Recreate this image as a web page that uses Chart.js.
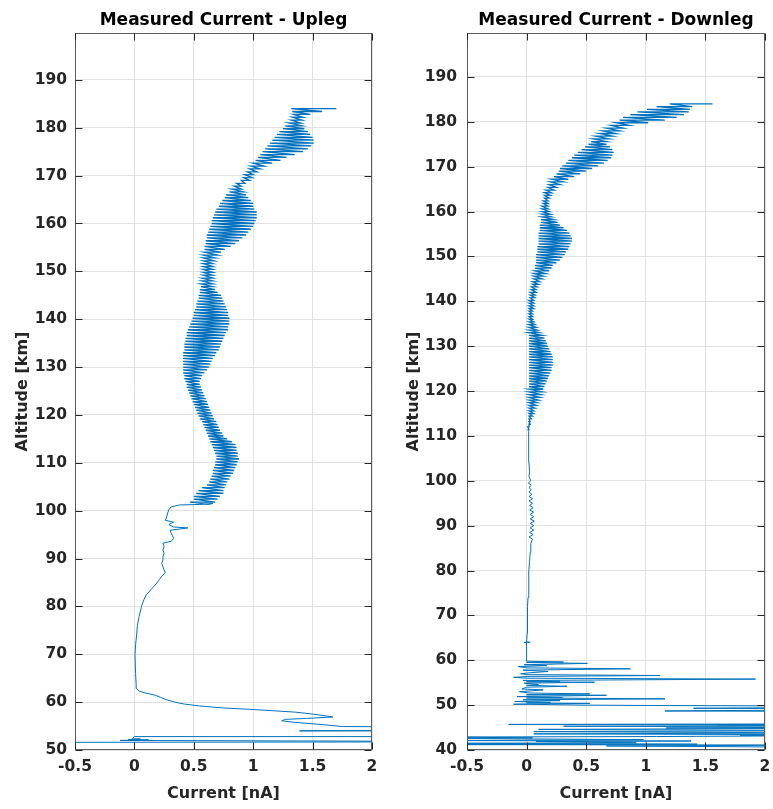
<!DOCTYPE html>
<html>
<head>
<meta charset="utf-8">
<title>Measured Current</title>
<script src="https://cdn.jsdelivr.net/npm/chart.js@4.4.1/dist/chart.umd.min.js"></script>
<style>
  html, body { margin: 0; padding: 0; background: #fff; }
  #wrap { position: relative; width: 773px; height: 809px; }
  canvas { position: absolute; top: 0; }
  #upChart { left: 0; }
  #downChart { left: 390px; }
</style>
</head>
<body>
<div id="wrap">
  <canvas id="upChart" width="390" height="809"></canvas>
  <canvas id="downChart" width="383" height="809"></canvas>
</div>
<script>
// ---- axis ticks ----
const currentTicks = [-0.5, 0, 0.5, 1, 1.5, 2];
const upAltTicks = [50, 60, 70, 80, 90, 100, 110, 120, 130, 140, 150, 160, 170, 180, 190];
const downAltTicks = [40, 50, 60, 70, 80, 90, 100, 110, 120, 130, 140, 150, 160, 170, 180, 190];

// ---- upleg: single trace below the spin-modulated band (altitude km / current nA) ----
const upTraceAlt = [
  51.6, 51.7, 51.8, 52.0, 52.1, 52.2, 52.3, 52.3, 52.8, 52.8, 54.0, 54.0, 54.1, 54.8, 54.9,
  55.3, 55.8, 56.1, 56.4, 56.6, 56.9, 57.1, 57.5, 57.9, 58.2, 58.5, 58.8, 59.2, 59.6, 60.0,
  60.5, 61.0, 61.4, 61.7, 62.0, 62.3, 62.8, 63.6, 66.0, 70.0, 72.0, 74.4, 76.0, 77.9, 80.0,
  81.4, 82.4, 83.8, 84.9, 85.6, 86.3, 87.0, 87.6, 88.3, 89.0, 89.7, 90.4, 91.1, 91.8, 92.5,
  93.2, 93.6, 94.2, 94.8, 95.3, 95.9, 96.4, 96.6, 97.1, 97.6, 98.0, 98.5, 99.5, 100.2, 100.8,
  101.2, 101.3, 101.5, 101.3
];
const upTraceCur = [
  -0.8, 2.6, 2.6, -0.12, 0.12, -0.05, 0.05, -0.02, 0.0, 2.6, 2.6, 1.39, 2.6, 2.6, 1.75,
  1.59, 1.34, 1.24, 1.27, 1.45, 1.67, 1.62, 1.50, 1.36, 1.17, 0.97, 0.74, 0.55, 0.42, 0.34,
  0.27, 0.22, 0.18, 0.13, 0.08, 0.04, 0.02, 0.015, 0.01, 0.005, 0.01, 0.02, 0.025, 0.04, 0.06,
  0.08, 0.10, 0.15, 0.19, 0.21, 0.23, 0.26, 0.25, 0.24, 0.23, 0.24, 0.24, 0.25, 0.24, 0.25,
  0.24, 0.31, 0.33, 0.32, 0.31, 0.30, 0.45, 0.33, 0.29, 0.33, 0.26, 0.27, 0.28, 0.29, 0.31,
  0.38, 0.55, 0.66, 0.62
];

// ---- upleg band: one stroke every BAND_STEP km from 101.8 km, left/right end in nA ----
const upBandStart = 101.8;
const upBandLo = [
  0.47, 0.50, 0.50, 0.52, 0.54, 0.57, 0.61, 0.63, 0.64, 0.65,
  0.66, 0.66, 0.67, 0.68, 0.68, 0.69, 0.69, 0.68, 0.67, 0.66,
  0.65, 0.64, 0.63, 0.62, 0.61, 0.60, 0.59, 0.58, 0.57, 0.55,
  0.54, 0.53, 0.52, 0.51, 0.50, 0.49, 0.48, 0.47, 0.46, 0.45,
  0.44, 0.44, 0.43, 0.42, 0.42, 0.41, 0.41, 0.41, 0.41, 0.41,
  0.41, 0.41, 0.41, 0.42, 0.42, 0.42, 0.43, 0.43, 0.44, 0.44,
  0.45, 0.46, 0.47, 0.48, 0.49, 0.50, 0.50, 0.51, 0.52, 0.52,
  0.53, 0.54, 0.54, 0.55, 0.55, 0.56, 0.56, 0.57, 0.57, 0.58,
  0.58, 0.58, 0.58, 0.58, 0.58, 0.58, 0.58, 0.59, 0.59, 0.59,
  0.60, 0.60, 0.61, 0.61, 0.62, 0.63, 0.64, 0.65, 0.65, 0.66,
  0.67, 0.68, 0.69, 0.71, 0.72, 0.74, 0.76, 0.77, 0.80, 0.82,
  0.84, 0.86, 0.90, 0.92, 0.93, 0.95, 0.97, 0.98, 1.00, 1.02,
  1.04, 1.06, 1.08, 1.10, 1.12, 1.14, 1.16, 1.18, 1.20, 1.22,
  1.25, 1.27, 1.30, 1.32, 1.33, 1.34, 1.33, 1.32
];
const upBandHi = [
  0.68, 0.70, 0.72, 0.75, 0.75, 0.76, 0.77, 0.78, 0.80, 0.81,
  0.83, 0.84, 0.85, 0.86, 0.87, 0.88, 0.87, 0.87, 0.86, 0.86,
  0.85, 0.82, 0.78, 0.75, 0.74, 0.72, 0.71, 0.70, 0.69, 0.67,
  0.66, 0.65, 0.64, 0.63, 0.62, 0.61, 0.60, 0.59, 0.58, 0.57,
  0.56, 0.55, 0.55, 0.56, 0.57, 0.59, 0.61, 0.63, 0.64, 0.65,
  0.66, 0.68, 0.69, 0.71, 0.72, 0.73, 0.74, 0.75, 0.76, 0.77,
  0.79, 0.79, 0.80, 0.80, 0.80, 0.79, 0.79, 0.78, 0.77, 0.76,
  0.75, 0.74, 0.73, 0.70, 0.68, 0.66, 0.66, 0.66, 0.66, 0.66,
  0.66, 0.66, 0.66, 0.66, 0.67, 0.68, 0.70, 0.73, 0.76, 0.81,
  0.85, 0.88, 0.91, 0.94, 0.96, 0.98, 1.00, 1.01, 1.02, 1.03,
  1.03, 1.03, 1.01, 1.00, 1.00, 0.98, 0.96, 0.94, 0.92, 0.90,
  0.90, 0.93, 0.97, 0.99, 1.00, 1.03, 1.06, 1.09, 1.16, 1.23,
  1.28, 1.35, 1.42, 1.46, 1.49, 1.51, 1.51, 1.50, 1.48, 1.46,
  1.43, 1.41, 1.40, 1.41, 1.42, 1.48, 1.58, 1.70
];

// ---- downleg: low-altitude spikes and the thin trace below the band ----
const downTraceAlt = [
  40.6, 40.9, 41.1, 41.2, 41.3, 41.5, 41.6, 41.9, 42.0, 42.1, 42.3, 42.6, 42.7, 42.9, 43.0,
  43.2, 43.3, 43.4, 43.6, 43.8, 44.1, 44.3, 44.6, 44.8, 44.9, 45.1, 45.3, 45.5, 45.6, 45.7,
  45.7, 45.8, 48.6, 48.7, 48.8, 48.9, 49.2, 49.3, 49.5, 49.8, 49.9, 50.0, 50.1, 50.2, 50.2,
  50.4, 50.5, 50.6, 50.8, 51.0, 51.2, 51.4, 51.6, 51.7, 51.9, 52.2, 52.3, 52.5, 52.7, 53.0,
  53.2, 53.4, 53.6, 54.0, 54.2, 54.4, 54.6, 54.9, 55.1, 55.2, 55.3, 55.5, 55.8, 56.0, 56.2,
  56.4, 56.6, 56.8, 57.0, 57.2, 57.5, 57.8, 58.1, 58.3, 58.6, 58.8, 59.0, 59.3, 59.5, 59.6,
  59.8, 60.0, 62.0, 63.9, 64.0, 64.0, 64.1, 66.0, 68.0, 70.0, 72.0, 74.0, 76.0, 78.0, 80.0,
  82.0, 84.0, 86.0, 87.0, 87.5, 88.0, 88.5, 89.0, 89.5, 90.0, 90.5, 91.0, 91.5, 92.0, 92.5,
  93.0, 93.5, 94.0, 94.5, 95.0, 95.5, 96.0, 96.5, 97.0, 97.5, 98.0, 98.5, 99.0, 99.5, 100.0,
  101.0, 102.0, 104.0, 106.0, 108.0, 110.0, 111.0
];
const downTraceCur = [
  2.6, 0.67, 2.6, -0.7, 1.43, -0.7, 0.92, 0.08, 1.38, -0.7, 0.98, -0.7, 0.05, -0.7, 1.09,
  2.6, 1.79, 2.6, 0.06, 2.6, 0.06, 2.6, 0.10, 2.6, 1.17, 2.6, 0.31, 2.6, 1.6, 2.6,
  -0.15, 2.6, 2.6, 1.16, 1.65, 2.6, 2.6, 1.4, 2.6, 2.6, 1.2, 0.5, 0.2, 0.02, -0.11,
  0.53, 0.0, 0.2, -0.1, 0.28, -0.03, 1.16, 0.0, 0.3, -0.08, 0.67, 0.0, 0.53, 0.02, -0.06,
  0.05, 0.14, -0.04, 0.0, 0.34, 0.0, 0.10, -0.02, 0.57, 0.0, 0.28, -0.03, 1.92, 0.0, -0.11,
  0.03, 1.12, 0.0, -0.05, 0.02, 0.18, -0.03, 0.87, 0.0, -0.07, 0.17, -0.02, 0.51, 0.0, 0.31,
  0.0, 0.0, 0.0, 0.0, -0.02, 0.03, 0.0, 0.005, 0.005, 0.008, 0.01, 0.012, 0.015, 0.02, 0.02,
  0.025, 0.03, 0.035, 0.05, 0.02, 0.055, 0.025, 0.06, 0.03, 0.06, 0.03, 0.065, 0.03, 0.06, 0.03,
  0.06, 0.025, 0.055, 0.025, 0.05, 0.02, 0.05, 0.02, 0.045, 0.02, 0.04, 0.02, 0.04, 0.015, 0.035,
  0.02, 0.025, 0.02, 0.02, 0.015, 0.015, 0.02
];

// ---- downleg band: one stroke every BAND_STEP km from 111.4 km ----
const downBandStart = 111.4;
const downBandLo = [
  0.01, 0.01, 0.02, 0.02, 0.02, 0.02, 0.02, 0.02, 0.02, 0.02,
  0.02, 0.02, 0.02, 0.02, 0.02, 0.02, 0.02, 0.02, 0.02, 0.02,
  0.02, 0.02, 0.02, 0.02, 0.02, 0.02, 0.02, 0.02, 0.02, 0.02,
  0.02, 0.02, 0.02, 0.02, 0.02, 0.02, 0.02, 0.02, 0.02, 0.02,
  0.02, 0.02, 0.02, 0.02, 0.02, 0.02, 0.02, 0.02, 0.02, 0.03,
  0.03, 0.03, 0.04, 0.04, 0.05, 0.05, 0.06, 0.06, 0.06, 0.07,
  0.07, 0.07, 0.08, 0.08, 0.08, 0.08, 0.09, 0.09, 0.09, 0.10,
  0.10, 0.10, 0.10, 0.10, 0.11, 0.11, 0.11, 0.12, 0.12, 0.13,
  0.13, 0.13, 0.13, 0.13, 0.14, 0.14, 0.15, 0.15, 0.15, 0.16,
  0.18, 0.19, 0.20, 0.21, 0.23, 0.25, 0.27, 0.28, 0.30, 0.33,
  0.35, 0.38, 0.40, 0.43, 0.46, 0.49, 0.52, 0.54, 0.56, 0.58,
  0.61, 0.64, 0.67, 0.71, 0.75, 0.78, 0.81, 0.87, 0.93, 1.01,
  1.09, 1.20
];
const downBandHi = [
  0.02, 0.02, 0.03, 0.03, 0.04, 0.05, 0.06, 0.06, 0.07, 0.08,
  0.09, 0.10, 0.11, 0.12, 0.13, 0.14, 0.15, 0.16, 0.17, 0.18,
  0.19, 0.20, 0.21, 0.21, 0.22, 0.22, 0.22, 0.22, 0.21, 0.20,
  0.19, 0.18, 0.17, 0.16, 0.15, 0.13, 0.11, 0.09, 0.08, 0.07,
  0.06, 0.05, 0.05, 0.05, 0.05, 0.06, 0.06, 0.06, 0.06, 0.07,
  0.07, 0.08, 0.08, 0.09, 0.10, 0.11, 0.13, 0.14, 0.16, 0.19,
  0.21, 0.22, 0.25, 0.28, 0.30, 0.32, 0.33, 0.35, 0.36, 0.37,
  0.38, 0.38, 0.37, 0.36, 0.34, 0.31, 0.28, 0.26, 0.23, 0.21,
  0.20, 0.19, 0.18, 0.18, 0.18, 0.18, 0.19, 0.20, 0.21, 0.23,
  0.25, 0.28, 0.31, 0.35, 0.40, 0.45, 0.50, 0.55, 0.60, 0.65,
  0.68, 0.71, 0.72, 0.73, 0.72, 0.70, 0.67, 0.67, 0.69, 0.72,
  0.75, 0.78, 0.81, 0.86, 1.02, 1.16, 1.26, 1.32, 1.36, 1.37,
  1.39, 1.56
];

const BAND_STEP = 0.6;
const TRACE_COLOR = "#0072BD";
const TEXT_COLOR = "#262626";
const GRID_COLOR = "#e2e2e2";
const FRAME_COLOR = "#5c5c5c";
const FONT = "'DejaVu Sans', 'Liberation Sans', sans-serif";
const TICK_LEN = 7;

// trace given as two parallel arrays
function tracePoints(alt, cur) {
  return alt.map((a, i) => ({ x: cur[i], y: a }));
}

// band: each stroke runs lo->hi at its altitude, then drops back to the next stroke's lo
function bandPoints(start, lo, hi) {
  const pts = [];
  lo.forEach((l, i) => {
    const alt = Math.round((start + i * BAND_STEP) * 10) / 10;
    pts.push({ x: l, y: alt }, { x: hi[i], y: alt });
  });
  return pts;
}

// box around the plot area with inward tick marks on all four sides
const axesBox = {
  id: "axesBox",
  afterDraw(chart) {
    const { ctx, chartArea: a } = chart;
    const x = chart.scales.x, y = chart.scales.y;
    const l = Math.round(a.left) + 0.5, r = Math.round(a.right) - 0.5;
    const t = Math.round(a.top) + 0.5, b = Math.round(a.bottom) - 0.5;
    ctx.save();
    ctx.strokeStyle = FRAME_COLOR;
    ctx.lineWidth = 1;
    ctx.strokeRect(l, t, r - l, b - t);
    ctx.strokeStyle = TEXT_COLOR;
    ctx.beginPath();
    x.ticks.forEach((tk) => {
      const px = Math.round(x.getPixelForValue(tk.value)) + 0.5;
      ctx.moveTo(px, t); ctx.lineTo(px, t + TICK_LEN);
      ctx.moveTo(px, b); ctx.lineTo(px, b - TICK_LEN);
    });
    y.ticks.forEach((tk) => {
      const py = Math.round(y.getPixelForValue(tk.value)) + 0.5;
      ctx.moveTo(l, py); ctx.lineTo(l + TICK_LEN, py);
      ctx.moveTo(r, py); ctx.lineTo(r - TICK_LEN, py);
    });
    ctx.stroke();
    ctx.restore();
  }
};

function makePanel(id, cfg) {
  const tickFont = { family: FONT, size: 15.5, weight: "bold" };
  const labelFont = { family: FONT, size: 16, weight: "bold", lineHeight: 1.2 };
  const trace = tracePoints(cfg.alt, cfg.cur);
  const band = bandPoints(cfg.bandStart, cfg.bandLo, cfg.bandHi);
  return new Chart(document.getElementById(id), {
    type: "scatter",
    data: {
      datasets: [{
        data: trace.concat(band),
        showLine: true,
        borderColor: TRACE_COLOR,
        borderWidth: 1,
        // the dense spin band reads a little heavier than the single trace
        segment: { borderWidth: (c) => (c.p0DataIndex >= trace.length ? 1.3 : 1) },
        pointRadius: 0,
        pointHoverRadius: 0,
        tension: 0
      }]
    },
    options: {
      responsive: false,
      animation: false,
      events: [],
      layout: { padding: { top: 0, right: cfg.padRight, bottom: 0, left: 0 } },
      plugins: {
        legend: { display: false },
        tooltip: { enabled: false },
        title: {
          display: true,
          fullSize: false,
          text: cfg.title,
          color: "#000",
          font: { family: FONT, size: 17, weight: "bold", lineHeight: 1.2 },
          padding: { top: 10, bottom: 2.6 }
        }
      },
      scales: {
        x: {
          type: "linear",
          min: -0.5,
          max: 2,
          afterBuildTicks: (s) => { s.ticks = currentTicks.map((v) => ({ value: v })); },
          afterFit: (s) => { s.height = 59; s.paddingLeft = 0; s.paddingRight = 0; },
          grid: { color: GRID_COLOR, drawTicks: false },
          border: { display: false },
          ticks: { color: TEXT_COLOR, font: tickFont, padding: 8, maxRotation: 0, callback: (v) => String(v) },
          title: { display: true, text: "Current [nA]", color: TEXT_COLOR, font: labelFont, padding: { top: 0, bottom: 6 } }
        },
        y: {
          type: "linear",
          min: cfg.yMin,
          max: 199.8,
          afterBuildTicks: (s) => { s.ticks = cfg.yTicks.map((v) => ({ value: v })); },
          afterFit: (s) => { s.width = cfg.yWidth; s.paddingTop = 0; s.paddingBottom = 0; },
          grid: { color: GRID_COLOR, drawTicks: false },
          border: { display: false },
          ticks: { color: TEXT_COLOR, font: tickFont, padding: cfg.tickPad, callback: (v) => String(v) },
          title: { display: true, text: "Altitude [km]", color: TEXT_COLOR, font: labelFont, padding: { top: cfg.titlePad, bottom: 0 } }
        }
      }
    },
    plugins: [axesBox]
  });
}

makePanel("upChart", {
  title: "Measured Current - Upleg",
  alt: upTraceAlt,
  cur: upTraceCur,
  bandStart: upBandStart,
  bandLo: upBandLo,
  bandHi: upBandHi,
  yMin: 50,
  yTicks: upAltTicks,
  yWidth: 75,
  tickPad: 8,
  titlePad: 13,
  padRight: 18
});

makePanel("downChart", {
  title: "Measured Current - Downleg",
  alt: downTraceAlt,
  cur: downTraceCur,
  bandStart: downBandStart,
  bandLo: downBandLo,
  bandHi: downBandHi,
  yMin: 40,
  yTicks: downAltTicks,
  yWidth: 77,
  tickPad: 10,
  titlePad: 14,
  padRight: 8
});
</script>
</body>
</html>
